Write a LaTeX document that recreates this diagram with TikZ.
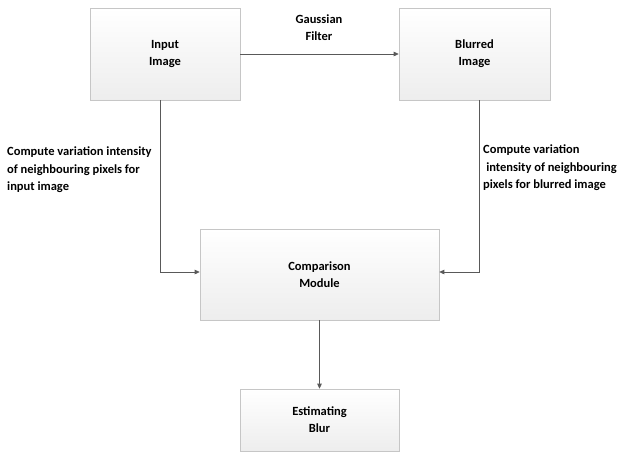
\documentclass[tikz,border=0pt]{standalone}
\usepackage{fontspec}
\setmainfont{Carlito}
\usetikzlibrary{arrows.meta,shadows}
\begin{document}
\begin{tikzpicture}[x=1pt,y=-1pt,
  box/.style={draw=gray!45, line width=0.6pt, top color=white, bottom color=gray!14,
    drop shadow={shadow xshift=1.2pt, shadow yshift=-1.2pt, fill=gray, opacity=0.25},
    align=center, font=\bfseries\fontsize{12.5}{17}\selectfont, inner sep=0pt},
  lbl/.style={font=\bfseries\fontsize{12.5}{17.5}\selectfont, inner sep=0pt},
  conn/.style={draw=black!65, line width=0.8pt, -{Triangle[length=5pt,width=4.5pt]}}]
\useasboundingbox (0,0) rectangle (617,459);
\fill[white] (0,0) rectangle (617,459);
\node[box, minimum width=150pt, minimum height=92pt] (in) at (165,54) {Input\\Image};
\node[box, minimum width=151pt, minimum height=92pt] (bl) at (474.5,54) {Blurred\\Image};
\node[box, minimum width=239pt, minimum height=91pt] (cm) at (319.5,274.5) {Comparison\\Module};
\node[box, minimum width=159pt, minimum height=62pt] (eb) at (319.5,420) {Estimating\\Blur};
\node[lbl, align=center] (gf) at (319,27.5) {Gaussian\\Filter};
\node[lbl, align=left, anchor=west] (ll) at (7,170) {Compute variation intensity\\of neighbouring pixels for\\input image};
\node[lbl, align=left, anchor=west] (rl) at (483,168) {Compute variation\\\hphantom{i}intensity of neighbouring\\pixels for blurred image};
\coordinate (lc) at (160,272);
\coordinate (rc) at (479,272);
\draw[conn] (in.east) -- (bl.west);
\draw[conn] (in.south -| lc) -- (lc) -- (cm.west |- lc);
\draw[conn] (bl.south -| rc) -- (rc) -- (cm.east |- rc);
\draw[conn] (cm.south) -- (eb.north);
\end{tikzpicture}
\end{document}
